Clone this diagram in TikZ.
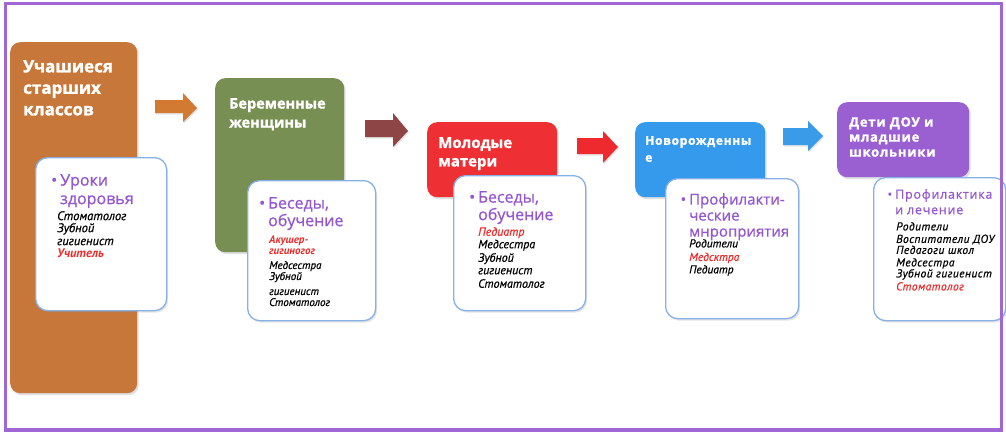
\documentclass[tikz,border=0pt]{standalone}
\usepackage{fontspec}
\setmainfont{Open Sans}[BoldFeatures={FakeBold=1.5}]
\newfontfamily\listfont{PT Sans}[ItalicFeatures={FakeBold=0.6}]
\newfontfamily\widefont{Open Sans}[LetterSpace=6, BoldFeatures={FakeBold=1.5}]
\newfontfamily\semifont{Open Sans}[FakeBold=0.8]
\newfontfamily\semiwidefont{Open Sans}[FakeBold=0.8, LetterSpace=6]
\newfontfamily\listwidefont{PT Sans}[ItalicFeatures={FakeBold=0.6}, LetterSpace=4]
\usetikzlibrary{shadows}
\definecolor{framecol}{HTML}{A066D3}
\definecolor{orangebox}{HTML}{C8773A}
\definecolor{orangearrow}{HTML}{D27A32}
\definecolor{greenbox}{HTML}{778F52}
\definecolor{brownarrow}{HTML}{8E4545}
\definecolor{redbox}{HTML}{EE3035}
\definecolor{redarrow}{HTML}{EE2A2F}
\definecolor{bluebox}{HTML}{3599EC}
\definecolor{bluearrow}{HTML}{3A9BE8}
\definecolor{purplebox}{HTML}{9A60D2}
\definecolor{purpletext}{HTML}{9457CF}
\definecolor{innerborder}{HTML}{86B0E6}
\definecolor{redtext}{HTML}{EE2B2B}
\tikzset{
  stagebox/.style={rounded corners=10pt, inner sep=0pt, anchor=north west,
    drop shadow={shadow xshift=1.5pt, shadow yshift=-2pt, opacity=0.25}},
  innerbox/.style={rounded corners=12pt, inner sep=0pt, anchor=north west, fill=white,
    draw=innerborder, line width=1.3pt,
    drop shadow={shadow xshift=1.5pt, shadow yshift=-2pt, opacity=0.2}},
  titletext/.style={text=white, align=left, inner sep=0pt, anchor=north west},
  bullettext/.style={text=purpletext, align=left, inner sep=0pt, anchor=north west},
  listtext/.style={text=black, align=left, inner sep=0pt, anchor=north west},
  blockarrow/.style={drop shadow={shadow xshift=1pt, shadow yshift=-1.5pt, opacity=0.2}}
}
\newcommand{\bul}{\llap{\textbullet\hspace{3pt}}}
\begin{document}
\begin{tikzpicture}[x=1pt,y=-1pt]
\useasboundingbox (0,0) rectangle (1006,434);
\fill[white] (0,0) rectangle (1006,434);

% stage 1
\node[stagebox, fill=orangebox, minimum width=127pt, minimum height=351pt] (s1) at (10,42) {};
\node[titletext, font={\fontsize{17}{21.5}\selectfont\bfseries}] (t1) at (23,60) {Учашиеся\\старших\\классов};
\node[innerbox, minimum width=131pt, minimum height=153pt] (i1) at (35,157) {};
\node[bullettext, font={\semifont\fontsize{16}{18.5}\selectfont}] (b1) at (60,174) {\bul Уроки\\здоровья};
\node[listtext, font={\listfont\itshape\fontsize{12.5}{12}\selectfont}] (l1) at (57,211) {Стоматолог\\Зубной\\[1pt]гигиенист\\\textcolor{redtext}{\bfseries Учитель}};

% arrow 1
\fill[orangearrow, blockarrow] (155,100) -- (183,100) -- (183,93) -- (197,108) -- (183,122) -- (183,113) -- (155,113) -- cycle;

% stage 2
\node[stagebox, fill=greenbox, minimum width=129pt, minimum height=174pt] (s2) at (215,78) {};
\node[titletext, font={\fontsize{14.5}{19}\selectfont\bfseries}] (t2) at (229,98) {Беременные\\женщины};
\node[innerbox, minimum width=128pt, minimum height=140pt] (i2) at (247,180) {};
\node[bullettext, font={\semifont\fontsize{16}{17.5}\selectfont}] (b2) at (268,197) {\bul Беседы,\\обучение};
\node[listtext, font={\listfont\itshape\fontsize{11}{11}\selectfont}] (l2) at (269,236) {\textcolor{redtext}{\bfseries Акушер-}\\\textcolor{redtext}{\bfseries гигиногог}\\[3pt]Медсестра\\Зубной\\[4pt]гигиенист\\Стоматолог};

% arrow 2
\fill[brownarrow, blockarrow] (365,120) -- (393,120) -- (393,113) -- (408,131) -- (393,147) -- (393,137) -- (365,137) -- cycle;

% stage 3
\node[stagebox, fill=redbox, minimum width=130pt, minimum height=75pt] (s3) at (427,122) {};
\node[titletext, font={\fontsize{15}{18.5}\selectfont\bfseries}] (t3) at (438,137) {Молодые\\матери};
\node[innerbox, minimum width=132pt, minimum height=135pt] (i3) at (453,175) {};
\node[bullettext, font={\semifont\fontsize{16}{17.5}\selectfont}] (b3) at (478,191) {\bul Беседы,\\обучение};
\node[listtext, font={\listfont\itshape\fontsize{12}{12.5}\selectfont}] (l3) at (478,227) {\textcolor{redtext}{Педиатр}\\Медсестра\\[1pt]Зубной\\гигиенист\\[1pt]Стоматолог};

% arrow 3
\fill[redarrow, blockarrow] (577,138) -- (603,138) -- (603,131) -- (618,147) -- (603,163) -- (603,154) -- (577,154) -- cycle;

% stage 4
\node[stagebox, fill=bluebox, minimum width=130pt, minimum height=75pt] (s4) at (635,122) {};
\node[titletext, font={\widefont\fontsize{12}{17}\selectfont\bfseries}] (t4) at (645,136) {Новорожденны\\е};
\node[innerbox, minimum width=133pt, minimum height=140pt] (i4) at (665,178) {};
\node[bullettext, font={\semifont\fontsize{15}{16}\selectfont}] (b4) at (689,193) {\bul Профилакти-\\ческие\\мнроприятия};
\node[listtext, font={\listfont\itshape\fontsize{11.5}{12.5}\selectfont}] (l4) at (689,239) {Родители\\[1pt]\textcolor{redtext}{Медсктра}\\Педиатр};

% arrow 4
\fill[bluearrow, blockarrow] (783,128) -- (808,128) -- (808,121) -- (823,136) -- (808,151) -- (808,145) -- (783,145) -- cycle;

% stage 5
\node[stagebox, fill=purplebox, minimum width=132pt, minimum height=75pt] (s5) at (837,102) {};
\node[titletext, font={\widefont\fontsize{13}{15}\selectfont\bfseries}] (t5) at (849,117) {Дети ДОУ и\\младшие\\школьники};
\node[innerbox, minimum width=132pt, minimum height=143pt] (i5) at (873,177) {};
\node[bullettext, font={\semiwidefont\fontsize{12.5}{15.5}\selectfont}] (b5) at (895,189) {\bul Профилактика\\и лечение};
\node[listtext, font={\listwidefont\itshape\fontsize{11.5}{11}\selectfont}] (l5) at (896,222) {Родители\\[1.5pt]Воспитатели ДОУ\\Педагоги школ\\[1.5pt]Медсестра\\Зубной гигиенист\\[2pt]\textcolor{redtext}{Стоматолог}};

% frame
\draw[framecol, line width=3.5pt] (5.5,3.5) rectangle (1001.5,430);
\end{tikzpicture}
\end{document}
